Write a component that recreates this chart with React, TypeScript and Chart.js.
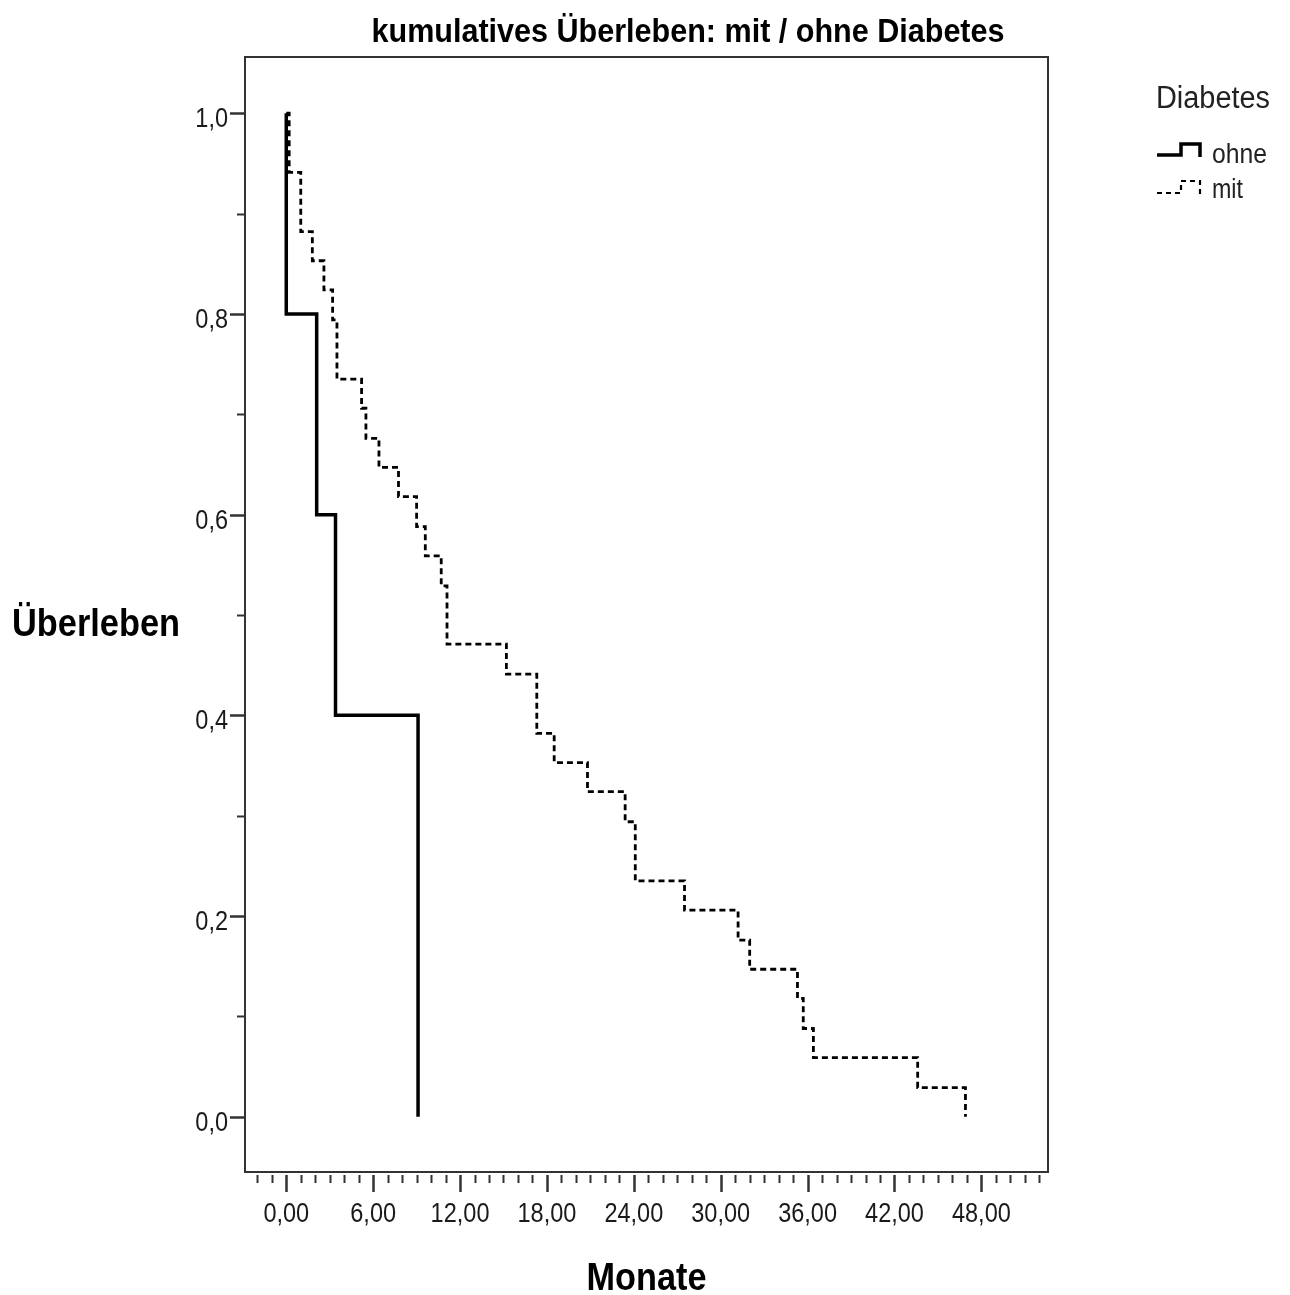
import React, { useEffect, useRef } from 'react';
import { Chart, registerables } from 'chart.js';

Chart.register(...registerables);

// ---------- data ----------
const titleText = 'kumulatives Überleben: mit / ohne Diabetes';
const xAxisTitle = 'Monate';
const yAxisTitle = 'Überleben';
const legendTitle = 'Diabetes';
const seriesNames = ['ohne', 'mit'];

// Kaplan-Meier steps, group "ohne" (without diabetes)
const ohneTimes = [0, 0, 2.1, 3.4, 9.1, 9.1];
const ohneSurv = [1.0, 0.8, 0.6, 0.4, 0.2, 0.0];

// Kaplan-Meier steps, group "mit" (with diabetes)
const mitTimes = [0, 0.2, 1.0, 1.8, 2.6, 3.2, 3.5, 5.2, 5.5, 6.4, 7.75, 9.0, 9.6, 10.7, 11.1, 15.2, 17.3, 18.5, 20.8, 23.4, 24.1, 27.5, 31.2, 32.0, 35.3, 35.7, 36.4, 43.6, 46.9];
const mitSurv = [1.0, 0.941, 0.882, 0.853, 0.824, 0.794, 0.735, 0.706, 0.676, 0.647, 0.618, 0.588, 0.559, 0.529, 0.471, 0.441, 0.382, 0.353, 0.324, 0.294, 0.235, 0.206, 0.176, 0.147, 0.118, 0.088, 0.059, 0.029, 0.0];

const xTickValues = [0, 6, 12, 18, 24, 30, 36, 42, 48];
const xTickLabels = ['0,00', '6,00', '12,00', '18,00', '24,00', '30,00', '36,00', '42,00', '48,00'];
const xMinorFrom = -2;
const xMinorTo = 52;
const yTickValues = [0, 0.2, 0.4, 0.6, 0.8, 1.0];
const yTickLabels = ['0,0', '0,2', '0,4', '0,6', '0,8', '1,0'];
const yMinorTickValues = [0.1, 0.3, 0.5, 0.7, 0.9];

const X_MIN = -2.85;
const X_MAX = 52.6;
const Y_MIN = -0.055;
const Y_MAX = 1.056;

const FRAME = '#333333';
const SANS = "'Liberation Sans', Arial, sans-serif";
const CONDENSE = 0.84;

function toPoints(xs: number[], ys: number[]) {
  return xs.map((x, i) => ({ x, y: ys[i] }));
}

function condensedText(ctx: CanvasRenderingContext2D, text: string, x: number, y: number, factor = CONDENSE) {
  const w = ctx.measureText(text).width * factor;
  ctx.fillText(text, x, y, w);
}

const decorPlugin = {
  id: 'decor',
  afterDraw(chart: any) {
    const ctx: CanvasRenderingContext2D = chart.ctx;
    const { left, right, top, bottom } = chart.chartArea;
    const xs = chart.scales.x;
    const ys = chart.scales.y;
    ctx.save();

    // frame
    ctx.strokeStyle = FRAME;
    ctx.lineWidth = 2;
    ctx.strokeRect(left, top, right - left, bottom - top);

    // y ticks
    ctx.lineWidth = 2.5;
    yTickValues.forEach((v) => {
      const py = Math.round(ys.getPixelForValue(v)) + 0.5;
      ctx.beginPath();
      ctx.moveTo(left - 15, py);
      ctx.lineTo(left, py);
      ctx.stroke();
    });
    ctx.lineWidth = 2;
    yMinorTickValues.forEach((v) => {
      const py = Math.round(ys.getPixelForValue(v)) + 0.5;
      ctx.beginPath();
      ctx.moveTo(left - 8, py);
      ctx.lineTo(left, py);
      ctx.stroke();
    });

    // x ticks
    for (let v = xMinorFrom; v <= xMinorTo; v++) {
      const px = Math.round(xs.getPixelForValue(v)) + 0.5;
      const major = xTickValues.indexOf(v) >= 0;
      ctx.lineWidth = major ? 2.5 : 2;
      ctx.beginPath();
      ctx.moveTo(px, bottom + 3);
      ctx.lineTo(px, bottom + (major ? 20 : 11));
      ctx.stroke();
    }

    // tick labels (condensed, like the reference)
    ctx.fillStyle = '#1a1a1a';
    ctx.font = `28px ${SANS}`;
    ctx.textBaseline = 'alphabetic';
    ctx.textAlign = 'right';
    yTickValues.forEach((v, i) => {
      const py = ys.getPixelForValue(v);
      condensedText(ctx, yTickLabels[i], left - 17, py + 14);
    });
    ctx.textAlign = 'center';
    xTickValues.forEach((v, i) => {
      const px = xs.getPixelForValue(v);
      condensedText(ctx, xTickLabels[i], px, 1222);
    });

    // title
    ctx.fillStyle = '#000';
    ctx.textAlign = 'center';
    ctx.font = `bold 34px ${SANS}`;
    ctx.fillText(titleText, 688, 42, 633);

    // axis titles
    ctx.font = `bold 39px ${SANS}`;
    ctx.textAlign = 'left';
    ctx.fillText(yAxisTitle, 12, 636, 168);
    ctx.textAlign = 'center';
    ctx.fillText(xAxisTitle, (left + right) / 2, 1290, 120);

    // legend
    ctx.fillStyle = '#222';
    ctx.textAlign = 'left';
    ctx.font = `31px ${SANS}`;
    ctx.fillText(legendTitle, 1156, 108, 114);
    ctx.font = `27px ${SANS}`;
    ctx.fillText(seriesNames[0], 1212, 163, 55);
    ctx.fillText(seriesNames[1], 1212, 198, 31);

    ctx.strokeStyle = '#000';
    ctx.lineWidth = 3.5;
    ctx.setLineDash([]);
    ctx.beginPath();
    ctx.moveTo(1157, 155);
    ctx.lineTo(1181, 155);
    ctx.lineTo(1181, 144);
    ctx.lineTo(1200, 144);
    ctx.lineTo(1200, 157);
    ctx.stroke();

    ctx.lineWidth = 2.2;
    ctx.setLineDash([5, 4]);
    ctx.beginPath();
    ctx.moveTo(1157, 193);
    ctx.lineTo(1181, 193);
    ctx.lineTo(1181, 181);
    ctx.lineTo(1200, 181);
    ctx.lineTo(1200, 194);
    ctx.stroke();
    ctx.setLineDash([]);

    ctx.restore();
  },
};

export default function App() {
  const canvasRef = useRef<HTMLCanvasElement | null>(null);

  useEffect(() => {
    const canvas = canvasRef.current;
    if (!canvas) return;
    const chart = new Chart(canvas, {
      type: 'line',
      data: {
        datasets: [
          {
            label: seriesNames[0],
            data: toPoints(ohneTimes, ohneSurv),
            borderColor: '#000',
            borderWidth: 3.5,
            stepped: true,
            pointRadius: 0,
            fill: false,
          },
          {
            label: seriesNames[1],
            data: toPoints(mitTimes, mitSurv),
            borderColor: '#000',
            borderWidth: 2.8,
            borderDash: [6, 4],
            stepped: true,
            pointRadius: 0,
            fill: false,
          },
        ],
      },
      options: {
        responsive: false,
        animation: false,
        layout: { padding: { left: 0, right: 242, top: 57, bottom: 0 } },
        plugins: {
          legend: { display: false },
          title: { display: false },
          tooltip: { enabled: false },
        },
        scales: {
          x: {
            type: 'linear',
            min: X_MIN,
            max: X_MAX,
            afterBuildTicks: (scale: any) => {
              scale.ticks = xTickValues.map((v) => ({ value: v }));
            },
            afterFit: (scale: any) => {
              scale.height = 123;
            },
            grid: { display: false, drawTicks: false },
            border: { display: false },
            ticks: { display: false },
          },
          y: {
            type: 'linear',
            min: Y_MIN,
            max: Y_MAX,
            afterBuildTicks: (scale: any) => {
              scale.ticks = yTickValues.map((v) => ({ value: v }));
            },
            afterFit: (scale: any) => {
              scale.width = 245;
            },
            grid: { display: false, drawTicks: false },
            border: { display: false },
            ticks: { display: false },
          },
        },
      },
      plugins: [decorPlugin],
    });
    return () => chart.destroy();
  }, []);

  return (
    <div style={{ position: 'absolute', left: 0, top: 0, width: 1290, height: 1295, background: '#fff' }}>
      <canvas ref={canvasRef} width={1290} height={1295} style={{ display: 'block' }} />
    </div>
  );
}
